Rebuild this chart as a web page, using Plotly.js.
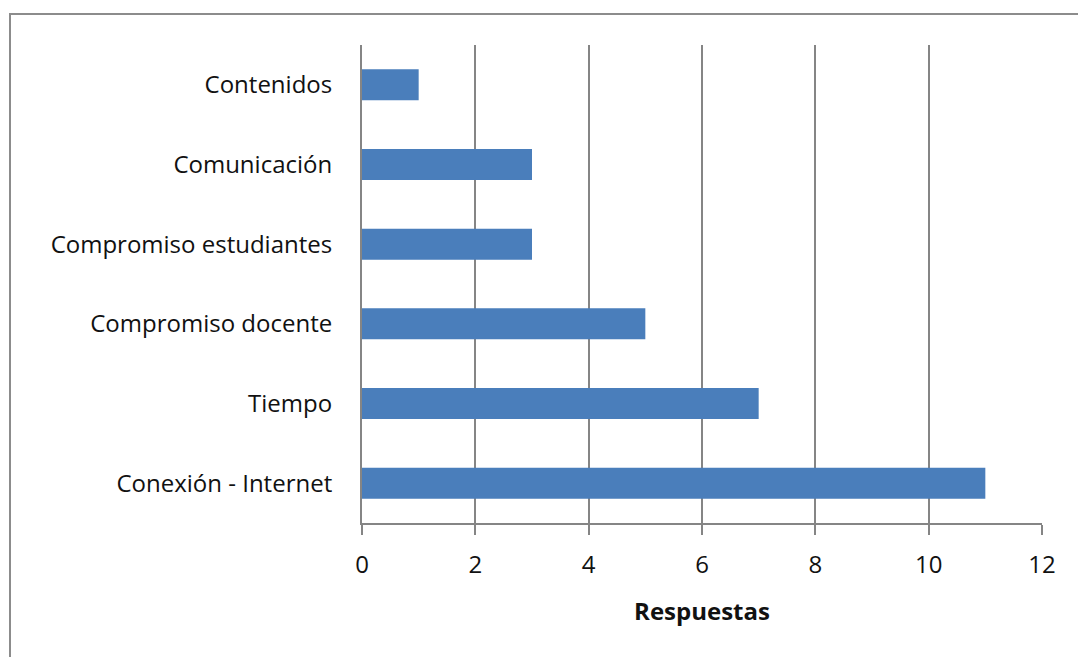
<!DOCTYPE html>
<html>
<head>
<meta charset="utf-8">
<script src="https://cdn.plot.ly/plotly-3.0.1.min.js"></script>
<style>
html, body { margin: 0; padding: 0; background: #fff; }
#chart { width: 1078px; height: 657px; }
#frame { position: absolute; left: 9px; top: 13px; width: 1100px; height: 700px;
  border-top: 2px solid #8c8c8c; border-left: 2px solid #8c8c8c; pointer-events: none; }
</style>
</head>
<body>
<div id="chart"></div>
<div id="frame"></div>
<script>
const categories = ["Conexión - Internet", "Tiempo", "Compromiso docente", "Compromiso estudiantes", "Comunicación", "Contenidos"];
const respuestas = [11, 7, 5, 3, 3, 1];
const xTicks = [0, 2, 4, 6, 8, 10, 12];
const xTitle = "Respuestas";

const font = "Open Sans, Noto Sans, sans-serif";

Plotly.newPlot("chart", [{
  type: "bar",
  orientation: "h",
  y: categories,
  x: respuestas,
  marker: { color: "#4a7ebb", line: { width: 0 } },
  hoverinfo: "x+y"
}], {
  width: 1078,
  height: 657,
  margin: { l: 362, r: 36, t: 45, b: 134 },
  paper_bgcolor: "#ffffff",
  plot_bgcolor: "#ffffff",
  bargap: 0.61,
  showlegend: false,
  font: { family: font, color: "#111111", size: 24 },
  xaxis: {
    range: [0, 12],
    tickvals: xTicks,
    ticktext: xTicks.map(String),
    showgrid: true,
    gridcolor: "#858585",
    gridwidth: 2,
    zeroline: false,
    showline: true,
    linecolor: "#858585",
    linewidth: 2,
    ticks: "outside",
    ticklen: 10,
    tickwidth: 2,
    tickcolor: "#858585",
    ticklabelstandoff: 9,
    tickfont: { family: font, size: 24, color: "#111111" },
    title: { text: xTitle, font: { family: font, size: 24, color: "#111111", weight: "bold" }, standoff: 24 },
    fixedrange: true
  },
  yaxis: {
    type: "category",
    categoryorder: "array",
    categoryarray: categories,
    showgrid: false,
    zeroline: false,
    showline: true,
    linecolor: "#858585",
    linewidth: 2,
    ticks: "",
    ticklabelstandoff: 23,
    tickfont: { family: font, size: 24, color: "#111111" },
    fixedrange: true
  }
}, { displayModeBar: false, staticPlot: true });
</script>
</body>
</html>
